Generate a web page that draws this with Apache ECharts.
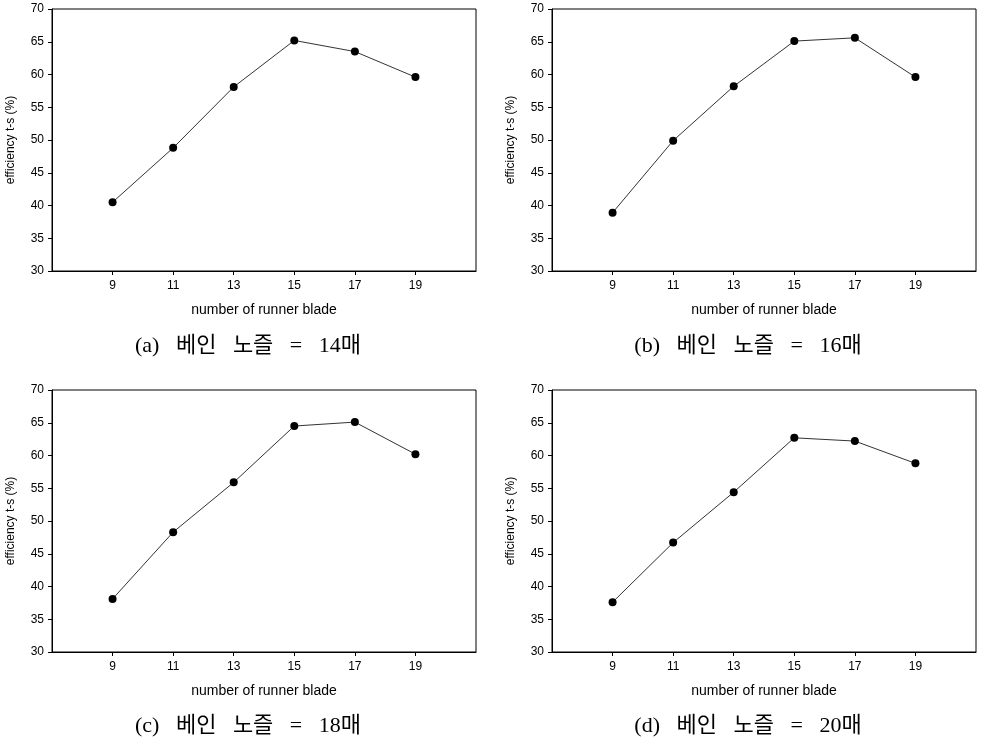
<!DOCTYPE html>
<html>
<head>
<meta charset="utf-8">
<script src="https://cdn.jsdelivr.net/npm/echarts@6/dist/echarts.min.js"></script>
<style>
  html, body { margin: 0; padding: 0; background: #fff; }
  #chart { width: 987px; height: 746px; }
</style>
</head>
<body>
<div id="chart"></div>
<script>
// runner blade counts (x) and efficiency values for each vane count
const bladeCounts = [9, 11, 13, 15, 17, 19]
const effVane14 = [40.5, 48.8, 58.1, 65.2, 63.5, 59.6]
const effVane16 = [38.9, 49.9, 58.2, 65.1, 65.6, 59.6]
const effVane18 = [38.1, 48.3, 55.9, 64.5, 65.1, 60.2]
const effVane20 = [37.6, 46.7, 54.4, 62.7, 62.2, 58.8]
const captions = ['(a)   베인   노즐   =   14매', '(b)   베인   노즐   =   16매', '(c)   베인   노즐   =   18매', '(d)   베인   노즐   =   20매']
const yTicks = [30, 35, 40, 45, 50, 55, 60, 65, 70]

const panels = [effVane14, effVane16, effVane18, effVane20]
const grids = [
  { left: 52, top: 9, width: 424, height: 262 },
  { left: 552, top: 9, width: 424, height: 262 },
  { left: 52, top: 390, width: 424, height: 262 },
  { left: 552, top: 390, width: 424, height: 262 },
]
const captionPos = [
  { x: 248, y: 346 },
  { x: 748, y: 346 },
  { x: 248, y: 726 },
  { x: 748, y: 726 },
]

const chart = echarts.init(document.getElementById('chart'), null, { renderer: 'canvas' })

const labelFont = { fontFamily: 'Liberation Sans, Arial', color: '#000' }

const option = {
  backgroundColor: '#fff',
  animation: false,
  grid: grids.map(g => ({ ...g, show: true, borderColor: '#000', borderWidth: 1, backgroundColor: 'transparent' })),
  xAxis: grids.map((g, i) => ({
    type: 'value',
    gridIndex: i,
    min: 7,
    max: 21,
    name: 'number of runner blade',
    nameLocation: 'middle',
    nameGap: 32,
    nameTextStyle: { ...labelFont, fontSize: 14 },
    splitLine: { show: false },
    axisLine: { show: true, onZero: false, lineStyle: { color: '#000', width: 1 } },
    axisTick: { show: true, length: 4, customValues: bladeCounts, lineStyle: { color: '#000' } },
    axisLabel: { customValues: bladeCounts, margin: 9, fontSize: 12, ...labelFont },
  })),
  yAxis: grids.map((g, i) => ({
    type: 'value',
    gridIndex: i,
    min: 30,
    max: 70,
    interval: 5,
    name: 'efficiency t-s (%)',
    nameLocation: 'middle',
    nameGap: 35,
    nameTextStyle: { ...labelFont, fontSize: 12 },
    splitLine: { show: false },
    axisLine: { show: true, lineStyle: { color: '#000', width: 1 } },
    axisTick: { show: true, length: 4, customValues: yTicks, lineStyle: { color: '#000' } },
    axisLabel: { customValues: yTicks, margin: 8, fontSize: 12, ...labelFont },
  })),
  series: panels.map((vals, i) => ({
    type: 'line',
    xAxisIndex: i,
    yAxisIndex: i,
    data: bladeCounts.map((x, j) => [x, vals[j]]),
    symbol: 'circle',
    symbolSize: 8,
    itemStyle: { color: '#000' },
    lineStyle: { color: '#333', width: 1 },
  })),
  graphic: captions.map((t, i) => ({
    type: 'text',
    x: captionPos[i].x,
    y: captionPos[i].y,
    style: {
      text: t,
      fill: '#000',
      font: '22px "Liberation Serif", "Noto Sans CJK KR"',
      align: 'center',
      verticalAlign: 'middle',
    },
  })),
}

chart.setOption(option)
</script>
</body>
</html>
